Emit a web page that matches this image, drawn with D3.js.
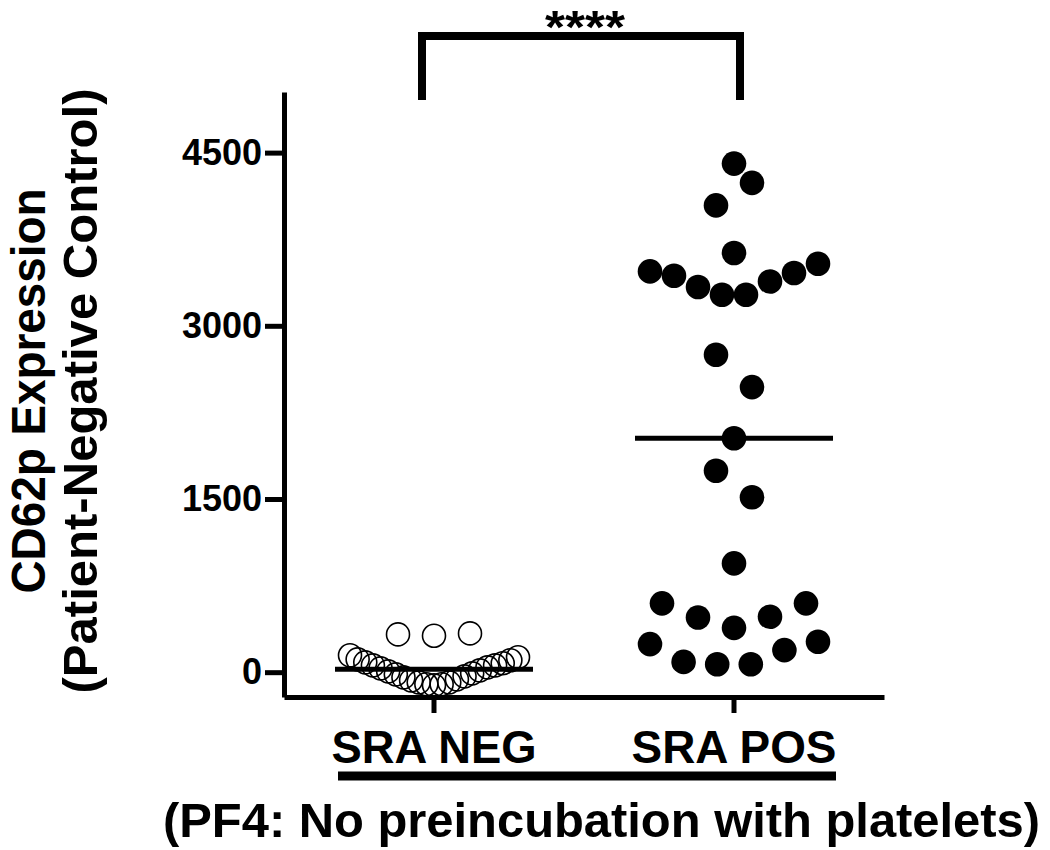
<!DOCTYPE html>
<html>
<head>
<meta charset="utf-8">
<script src="https://cdn.jsdelivr.net/npm/d3@7"></script>
<style>
  body { margin: 0; background: #fff; }
  svg { display: block; }
  text { font-family: "Liberation Sans", Arial, Helvetica, sans-serif; font-weight: bold; fill: #000; }
</style>
</head>
<body>
<svg id="chart" width="1050" height="850"></svg>
<script>
// ---------- data ----------
const categories = ["SRA NEG", "SRA POS"];
// values listed in the order the plotting program laid them out
const negValues = [-114, -105, -105, -88, -88, -71, -62, -45, -36, -19, -10, 7, 16, 33, 42, 59, 59, 85, 77, 111, 103, 146, 129,
                   315, 327, 336];
const posValues = [69, 69, 89, 191, 243, 263, 384, 474, 480, 596, 596, 942, 1745, 1515, 2026, 2749, 2469,
                   3269, 3269, 3336, 3384, 3434, 3457, 3471, 3538, 3631, 4043, 4238, 4405];
const yTickValues = [0, 1500, 3000, 4500];
const yDomain = [-215, 5025];
const yTitleLines = ["CD62p Expression", "(Patient-Negative Control)"];
const groupLabel = "(PF4: No preincubation with platelets)";
const significance = "****";

// ---------- layout ----------
const svg = d3.select("#chart");
const x = d3.scaleBand().domain(categories).range([284, 884]);
const xc = c => x(c) + x.bandwidth() / 2;
const y = d3.scaleLinear().domain(yDomain).range([697, 92]);

// rows of similar values spread side by side (scatter dot plot layout)
const rowSpan = 300;       // value units joined into one row
function swarmOffsets(values) {
  const idx = values.map((v, i) => i).sort((a, b) => values[a] - values[b] || a - b);
  const rows = [];
  let cur = null;
  for (const i of idx) {
    if (!cur || values[i] - cur.start > rowSpan) { cur = { start: values[i], members: [] }; rows.push(cur); }
    cur.members.push(i);
  }
  const offs = new Array(values.length).fill(0);
  rows.forEach(r => {
    r.members.sort((a, b) => a - b);
    const n = r.members.length;
    const s = Math.min(36, 168 / Math.max(1, n - 1));
    r.members.forEach((m, j) => {
      let slot;
      if (n % 2 === 1) {
        if (j === 0) slot = 0;
        else { const k = Math.ceil(j / 2); slot = (j % 2 === 1) ? -k : k; }
      } else {
        const k = Math.floor(j / 2) + 0.5; slot = (j % 2 === 0) ? -k : k;
      }
      offs[m] = slot * s;
    });
  });
  return offs;
}

// ---------- axes ----------
const yAxis = svg.append("g").attr("transform", "translate(284,0)")
  .call(d3.axisLeft(y).tickValues(yTickValues).tickSize(19).tickSizeOuter(0).tickPadding(3).tickFormat(d3.format("d")));
yAxis.select(".domain").attr("stroke", "#000").attr("stroke-width", 5);
yAxis.selectAll(".tick line").attr("stroke", "#000").attr("stroke-width", 5);
yAxis.selectAll(".tick text").attr("font-size", 36).attr("font-weight", "bold").attr("fill", "#000")
  .attr("font-family", "'Liberation Sans', Arial, sans-serif");

const xAxis = svg.append("g").attr("transform", "translate(0,697)")
  .call(d3.axisBottom(x).tickSize(16).tickSizeOuter(0).tickPadding(17));
xAxis.select(".domain").attr("stroke", "#000").attr("stroke-width", 5);
xAxis.selectAll(".tick line").attr("stroke", "#000").attr("stroke-width", 5);
xAxis.selectAll(".tick text").attr("font-size", 46).attr("font-weight", "bold").attr("fill", "#000")
  .attr("font-family", "'Liberation Sans', Arial, sans-serif")
  .attr("textLength", 205).attr("lengthAdjust", "spacingAndGlyphs");

// ---------- points ----------
const groups = [
  { cat: categories[0], values: negValues, open: true, r: 11.5 },
  { cat: categories[1], values: posValues, open: false, r: 12.3 }
];
groups.forEach(g => {
  const offs = swarmOffsets(g.values);
  svg.append("g").selectAll("circle").data(g.values).join("circle")
    .attr("cx", (d, i) => xc(g.cat) + offs[i])
    .attr("cy", d => y(d))
    .attr("r", g.r)
    .attr("fill", g.open ? "none" : "#000")
    .attr("stroke", "#000")
    .attr("stroke-width", g.open ? 1.6 : 0);
  const med = d3.median(g.values);
  svg.append("line")
    .attr("x1", xc(g.cat) - 99).attr("x2", xc(g.cat) + 99)
    .attr("y1", y(med)).attr("y2", y(med))
    .attr("stroke", "#000").attr("stroke-width", 5);
});

// ---------- significance bracket ----------
const bl = xc(categories[0]) - 12, br = xc(categories[1]) + 6;
svg.append("path")
  .attr("d", `M${bl},100V36H${br}V100`)
  .attr("fill", "none").attr("stroke", "#000").attr("stroke-width", 8).attr("stroke-linejoin", "miter");
svg.append("text").attr("x", (bl + br) / 2 + 4).attr("y", 43)
  .attr("text-anchor", "middle").attr("font-size", 46)
  .attr("textLength", 80).attr("lengthAdjust", "spacingAndGlyphs")
  .text(significance);

// ---------- titles ----------
const yTitleX = [45, 97], yTitleLen = [405, 605];
yTitleLines.forEach((t, i) => {
  svg.append("text")
    .attr("transform", `translate(${yTitleX[i]},391) rotate(-90)`)
    .attr("text-anchor", "middle").attr("font-size", 48)
    .attr("textLength", yTitleLen[i]).attr("lengthAdjust", "spacingAndGlyphs")
    .text(t);
});

svg.append("line").attr("x1", 338).attr("x2", 836).attr("y1", 776).attr("y2", 776)
  .attr("stroke", "#000").attr("stroke-width", 9);

svg.append("text").attr("x", 163).attr("y", 837).attr("font-size", 48)
  .attr("textLength", 877).attr("lengthAdjust", "spacingAndGlyphs")
  .text(groupLabel);
</script>
</body>
</html>
